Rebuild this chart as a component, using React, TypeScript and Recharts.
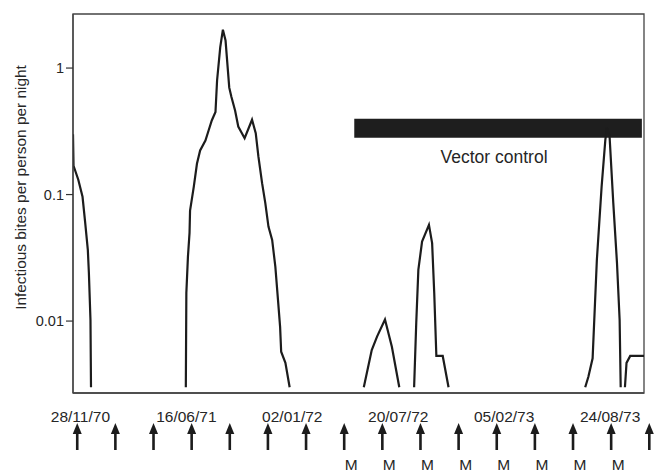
import React from 'react';
import { ComposedChart, Line, XAxis, YAxis, ReferenceArea } from 'recharts';

// Days since 28/11/70 and infectious bites per person per night (null = below detection)
const days = [
  -14, -13, -4, 4, 9, 14, 16, 19, 20,
  100,
  199, 200, 203, 206, 207, 214, 220, 226, 236, 242, 248, 255, 258, 264, 269, 274, 281, 285,
  292, 298, 310, 324, 331, 336, 343, 349, 355, 362, 368, 373, 377, 379, 387, 395,
  460,
  535, 550, 560, 575, 588, 602,
  616,
  630, 634, 638, 645, 658, 664, 668, 672, 684, 695,
  800,
  953, 959, 967, 975, 984, 991, 994, 999, 1006, 1013, 1018, 1020,
  1024,
  1028, 1031, 1038, 1064,
];
const bites: (number | null)[] = [
  0.3, 0.169, 0.131, 0.096, 0.06, 0.0365, 0.024, 0.0102, 0.003,
  null,
  0.003, 0.0167, 0.0323, 0.0498, 0.0747, 0.115, 0.175, 0.223, 0.267, 0.321, 0.385, 0.449, 0.798,
  1.466, 2.01, 1.65, 0.7, 0.593,
  0.462, 0.345, 0.279, 0.39, 0.306, 0.2, 0.123, 0.086, 0.0558, 0.0438, 0.0269, 0.0147, 0.009,
  0.00573, 0.00467, 0.003,
  null,
  0.003, 0.0059, 0.00753, 0.0103, 0.00627, 0.003,
  null,
  0.003, 0.0096, 0.0254, 0.0425, 0.0576, 0.0413, 0.0166, 0.0053, 0.0053, 0.003,
  null,
  0.003, 0.00363, 0.00508, 0.0304, 0.1157, 0.271, 0.337, 0.288, 0.086, 0.0288, 0.0102, 0.003,
  null,
  0.003, 0.00467, 0.0053, 0.0053,
];

const yTicks = [0.01, 0.1, 1];
const yDomain = [0.0027, 2.675];
const xDomain = [-14, 1064];

const dateDays = [0, 200, 400, 600, 800, 1000];
const dateLabels = ['28/11/70', '16/06/71', '02/01/72', '20/07/72', '05/02/73', '24/08/73'];

const surveyDays = [-6, 66, 138, 210, 282, 354, 426, 498, 570, 642, 714, 786, 858, 930, 1002, 1074];
const surveyMarks = ['', '', '', '', '', '', '', 'M', 'M', 'M', 'M', 'M', 'M', 'M', 'M', ''];

const vectorStart = 517;
const vectorEnd = 1060;
const vectorLow = 0.281;
const vectorHigh = 0.397;
const vectorLabel = 'Vector control';
const yLabel = 'Infectious bites per person per night';

const data = days.map((d, i) => ({ day: d, bites: bites[i] }));
const bottomTicks = Array.from(new Set([...dateDays, ...surveyDays])).sort((a, b) => a - b);

const FONT = 'Liberation Sans, Arial, Helvetica, sans-serif';
const INK = '#1c1c1c';

const BottomTick = (props: any) => {
  const { x, y, payload } = props;
  const v = payload.value;
  const di = dateDays.indexOf(v);
  const si = surveyDays.indexOf(v);
  return (
    <g>
      {di >= 0 && (
        <text x={x} y={y + 29} textAnchor="middle" fontFamily={FONT} fontSize={15.5} fill="#262626">
          {dateLabels[di]}
        </text>
      )}
      {si >= 0 && (
        <g>
          <path d={`M${x},${y + 30} L${x - 4.5},${y + 41} L${x + 4.5},${y + 41} Z`} fill={INK} />
          <rect x={x - 1.3} y={y + 39} width={2.6} height={18} fill={INK} />
          {surveyMarks[si] && (
            <text x={x + 7} y={y + 77} textAnchor="middle" fontFamily={FONT} fontSize={15.5} fill="#262626">
              {surveyMarks[si]}
            </text>
          )}
        </g>
      )}
    </g>
  );
};

const YLabel = (props: any) => {
  const vb = props.viewBox || { x: 0, y: 14, width: 73, height: 379 };
  const cx = 26;
  const cy = vb.y + vb.height / 2 - 16;
  return (
    <text
      x={cx}
      y={cy}
      transform={`rotate(-90, ${cx}, ${cy})`}
      textAnchor="middle"
      fontFamily={FONT}
      fontSize={15.4}
      fill="#262626"
    >
      {yLabel}
    </text>
  );
};

const VectorLabel = (props: any) => {
  const vb = props.viewBox || { x: 0, y: 0, width: 0, height: 0 };
  return (
    <text
      x={vb.x + vb.width / 2 - 4}
      y={vb.y + vb.height + 25}
      textAnchor="middle"
      fontFamily={FONT}
      fontSize={17.5}
      fill="#262626"
    >
      {vectorLabel}
    </text>
  );
};

export default function App() {
  return (
    <div style={{ position: 'absolute', left: 0, top: 0, width: 657, height: 474, background: '#fff' }}>
      <ComposedChart width={657} height={474} data={data} margin={{ top: 14, right: 13, left: 0, bottom: 0 }}>
        <XAxis
          dataKey="day"
          type="number"
          domain={xDomain}
          allowDataOverflow
          ticks={bottomTicks}
          interval={0}
          tick={<BottomTick />}
          tickLine={false}
          tickSize={0}
          tickMargin={0}
          height={81}
          axisLine={{ stroke: '#444', strokeWidth: 1.3 }}
        />
        <YAxis
          type="number"
          scale="log"
          domain={yDomain}
          allowDataOverflow
          ticks={yTicks}
          tickFormatter={(v: number) => String(v)}
          width={73}
          tickSize={7}
          tickMargin={2}
          tick={{ fontFamily: FONT, fontSize: 14.5, fill: '#262626' }}
          tickLine={{ stroke: '#333', strokeWidth: 1.2 }}
          axisLine={{ stroke: '#444', strokeWidth: 1.3 }}
          label={{ content: <YLabel /> }}
        />
        <ReferenceArea
          x1={xDomain[0]}
          x2={xDomain[1]}
          y1={yDomain[0]}
          y2={yDomain[1]}
          fill="none"
          fillOpacity={0}
          stroke="#444"
          strokeWidth={1.3}
          ifOverflow="visible"
        />
        <Line
          type="linear"
          dataKey="bites"
          stroke={INK}
          strokeWidth={2.2}
          dot={false}
          connectNulls={false}
          isAnimationActive={false}
        />
        <ReferenceArea
          x1={vectorStart}
          x2={vectorEnd}
          y1={vectorLow}
          y2={vectorHigh}
          fill="#1e1e1e"
          fillOpacity={1}
          stroke="none"
          ifOverflow="visible"
          label={<VectorLabel />}
        />
      </ComposedChart>
    </div>
  );
}
